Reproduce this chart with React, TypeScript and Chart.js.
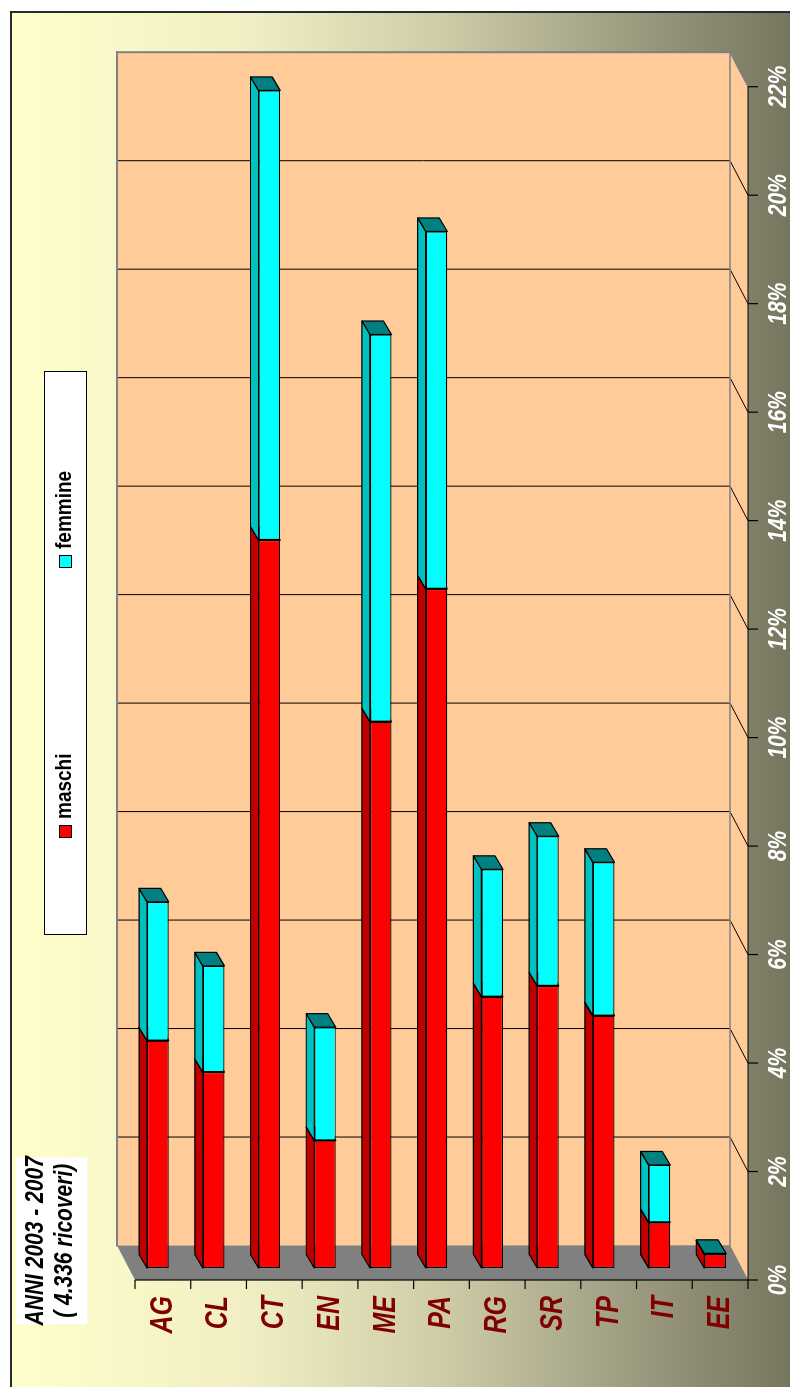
import React, { useEffect, useRef } from 'react';
import { Chart, registerables } from 'chart.js';

Chart.register(...registerables);

// ---- data ----
const categories = ['AG', 'CL', 'CT', 'EN', 'ME', 'PA', 'RG', 'SR', 'TP', 'IT', 'EE'];
const maschi = [4.19, 3.61, 13.42, 2.35, 10.07, 12.52, 5.0, 5.2, 4.65, 0.84, 0.26];
const femmine = [2.56, 1.96, 8.29, 2.09, 7.14, 6.59, 2.35, 2.76, 2.83, 1.06, 0.01];
const seriesNames = ['maschi', 'femmine'];
const titleLines = ['ANNI 2003 - 2007', '( 4.336 ricoveri)'];
const valueMax = 22;
const valueStep = 2;

// ---- styling ----
const W = 1387;
const H = 790;
const FONT = '"Liberation Sans", Arial, Helvetica, sans-serif';
const FRONT = ['#FF0000', '#00FFFF'];
const SIDE = ['#C00000', '#00C0C0'];
const CAP = ['#800000', '#008080'];
const DEPTH = { x: 34.5, y: -18 };
const BAR_SHIFT = { x: 12, y: -5 };
const BAR_DEPTH = { x: 13.5, y: -8 };

type P = [number, number];

function poly(ctx: CanvasRenderingContext2D, pts: P[], fill?: string, stroke?: string, lw = 1) {
  ctx.beginPath();
  ctx.moveTo(pts[0][0], pts[0][1]);
  for (let i = 1; i < pts.length; i++) ctx.lineTo(pts[i][0], pts[i][1]);
  ctx.closePath();
  if (fill) {
    ctx.fillStyle = fill;
    ctx.fill();
  }
  if (stroke) {
    ctx.strokeStyle = stroke;
    ctx.lineWidth = lw;
    ctx.lineJoin = 'round';
    ctx.stroke();
  }
}

function line(ctx: CanvasRenderingContext2D, ax: number, ay: number, bx: number, by: number, color: string, lw = 1) {
  ctx.beginPath();
  ctx.moveTo(ax, ay);
  ctx.lineTo(bx, by);
  ctx.strokeStyle = color;
  ctx.lineWidth = lw;
  ctx.stroke();
}

function stretchText(
  ctx: CanvasRenderingContext2D,
  str: string,
  x: number,
  y: number,
  font: string,
  color: string,
  sy: number,
  align: CanvasTextAlign
) {
  ctx.save();
  ctx.translate(x, y);
  ctx.scale(1, sy);
  ctx.font = font;
  ctx.fillStyle = color;
  ctx.textAlign = align;
  ctx.textBaseline = 'middle';
  ctx.fillText(str, 0, 0);
  ctx.restore();
}

const scene3d = {
  id: 'scene3d',
  beforeDraw(chart: any) {
    const ctx: CanvasRenderingContext2D = chart.ctx;
    ctx.save();
    ctx.fillStyle = '#ffffff';
    ctx.fillRect(0, 0, W, H);
    const g = ctx.createLinearGradient(0, 10, 0, H);
    g.addColorStop(0, '#FFFFCC');
    g.addColorStop(0.3, '#F1EFC3');
    g.addColorStop(0.55, '#CFCDA8');
    g.addColorStop(0.78, '#A09F84');
    g.addColorStop(1, '#76765F');
    ctx.fillStyle = g;
    ctx.fillRect(0, 10, 1375, H - 10);
    ctx.beginPath();
    ctx.moveTo(0, 11);
    ctx.lineTo(1375, 11);
    ctx.lineTo(1375, H);
    ctx.strokeStyle = '#2a2a2a';
    ctx.lineWidth = 2;
    ctx.stroke();

    const xs = chart.scales.x;
    const a = chart.chartArea;
    const x0 = xs.getPixelForValue(0);
    const x1 = xs.getPixelForValue(valueMax);
    const t = a.top;
    const b = a.bottom;
    const dx = DEPTH.x;
    const dy = DEPTH.y;

    // back wall
    ctx.fillStyle = '#FFCC99';
    ctx.fillRect(x0 + dx, t + dy, x1 - x0, b - t);
    // lower side wall
    poly(ctx, [[x0, b], [x0 + dx, b + dy], [x1 + dx, b + dy], [x1, b]], '#FFCC99');

    // gridlines on walls
    for (const tk of xs.ticks) {
      const v = tk.value;
      if (v <= 0 || v >= valueMax) continue;
      const X = xs.getPixelForValue(v);
      line(ctx, X + dx, t + dy, X + dx, b + dy, '#000', 1);
      line(ctx, X + dx, b + dy, X, b, '#000', 1);
    }

    // wall borders
    ctx.lineCap = 'square';
    line(ctx, x0 + dx, t + dy, x1 + dx, t + dy, '#808080', 2);
    line(ctx, x1 + dx, t + dy, x1 + dx, b + dy, '#808080', 2);
    line(ctx, x0 + dx, b + dy, x1 + dx, b + dy, '#808080', 1.5);
    line(ctx, x1 + dx, b + dy, x1, b, '#808080', 1.5);
    ctx.lineCap = 'butt';

    // floor (gray)
    poly(ctx, [[x0, t], [x0 + dx, t + dy], [x0 + dx, b + dy], [x0, b]], '#808080');

    // axes
    line(ctx, x0, b, x1, b, '#000', 1.2);
    for (const tk of xs.ticks) {
      const X = xs.getPixelForValue(tk.value);
      line(ctx, X, b, X, b + 10, '#000', 1.2);
    }
    line(ctx, x0, t, x0, b, '#000', 1.2);
    const n = categories.length;
    const step = (b - t) / n;
    for (let k = 0; k <= n; k++) {
      const Y = t + k * step;
      line(ctx, x0 - 9, Y, x0, Y, '#000', 1.2);
    }
    ctx.restore();
  },
  beforeDatasetsDraw(chart: any) {
    const ctx: CanvasRenderingContext2D = chart.ctx;
    ctx.save();
    ctx.translate(BAR_SHIFT.x, BAR_SHIFT.y);
    const bx = BAR_DEPTH.x;
    const by = BAR_DEPTH.y;
    chart.data.datasets.forEach((_ds: any, di: number) => {
      const meta = chart.getDatasetMeta(di);
      meta.data.forEach((el: any) => {
        const p = el.getProps(['x', 'y', 'base', 'height'], true);
        const xa = Math.min(p.x, p.base);
        const xb = Math.max(p.x, p.base);
        const yT = p.y - p.height / 2;
        const yB = p.y + p.height / 2;
        poly(ctx, [[xa, yT], [xb, yT], [xb + bx, yT + by], [xa + bx, yT + by]], SIDE[di], '#000', 1.2);
        poly(ctx, [[xb, yT], [xb + bx, yT + by], [xb + bx, yB + by], [xb, yB]], CAP[di], '#000', 1.2);
      });
    });
  },
  afterDatasetsDraw(chart: any) {
    chart.ctx.restore();
  },
  afterDraw(chart: any) {
    const ctx: CanvasRenderingContext2D = chart.ctx;
    const xs = chart.scales.x;
    const ys = chart.scales.y;
    ctx.save();
    // value labels
    for (const tk of xs.ticks) {
      const X = xs.getPixelForValue(tk.value);
      stretchText(ctx, `${tk.value}%`, X, 779, `italic bold 21px ${FONT}`, '#ffffff', 1.2, 'center');
    }
    // category labels
    categories.forEach((c, i) => {
      const Y = ys.getPixelForValue(i);
      stretchText(ctx, c, 91, Y, `italic bold 25px ${FONT}`, '#800000', 1.28, 'right');
    });
    // title box
    ctx.fillStyle = '#ffffff';
    ctx.fillRect(62.7, 16, 167, 71.3);
    stretchText(ctx, titleLines[0], 146.2, 36.5, `italic bold 21px ${FONT}`, '#000', 1.2, 'center');
    stretchText(ctx, titleLines[1], 146.2, 65, `italic bold 21px ${FONT}`, '#000', 1.2, 'center');
    // legend
    ctx.fillStyle = '#ffffff';
    ctx.fillRect(452, 44, 563, 42);
    ctx.strokeStyle = '#000';
    ctx.lineWidth = 1;
    ctx.strokeRect(452.5, 44.5, 563, 42);
    const itemX = [549, 819];
    chart.data.datasets.forEach((ds: any, di: number) => {
      const sx = itemX[di];
      ctx.fillStyle = ds.backgroundColor;
      ctx.fillRect(sx, 59.5, 12, 12);
      ctx.strokeStyle = '#000';
      ctx.lineWidth = 1;
      ctx.strokeRect(sx + 0.5, 59.5, 12, 12);
      stretchText(ctx, ds.label, sx + 19, 65.5, `bold 19px ${FONT}`, '#000', 1.12, 'left');
    });
    ctx.restore();
  },
};

export default function App() {
  const ref = useRef<HTMLCanvasElement>(null);
  useEffect(() => {
    const canvas = ref.current;
    if (!canvas) return;
    const chart = new Chart(canvas, {
      type: 'bar',
      data: {
        labels: categories,
        datasets: [
          {
            label: seriesNames[0],
            data: maschi,
            backgroundColor: FRONT[0],
            borderColor: '#000',
            borderWidth: 1.2,
            borderSkipped: false,
            clip: false as any,
          },
          {
            label: seriesNames[1],
            data: femmine,
            backgroundColor: FRONT[1],
            borderColor: '#000',
            borderWidth: 1.2,
            borderSkipped: false,
            clip: false as any,
          },
        ],
      },
      options: {
        indexAxis: 'y',
        responsive: false,
        animation: false,
        devicePixelRatio: 1,
        layout: { padding: { left: 107, right: 86.7, top: 135, bottom: 42 } },
        datasets: { bar: { categoryPercentage: 1, barPercentage: 0.3876 } },
        plugins: {
          legend: { display: false },
          tooltip: { enabled: false },
          title: { display: false },
        },
        scales: {
          x: {
            type: 'linear',
            stacked: true,
            min: 0,
            max: valueMax,
            ticks: { stepSize: valueStep },
            display: false,
          },
          y: { type: 'category', stacked: true, offset: true, display: false },
        },
      } as any,
      plugins: [scene3d as any],
    });
    return () => chart.destroy();
  }, []);

  return (
    <div style={{ position: 'absolute', left: 0, top: 0, width: 790, height: 1387, overflow: 'hidden' }}>
      <div
        style={{
          position: 'absolute',
          left: 0,
          top: 1387,
          width: W,
          height: H,
          transform: 'rotate(-90deg)',
          transformOrigin: '0 0',
        }}
      >
        <canvas ref={ref} width={W} height={H} style={{ display: 'block' }} />
      </div>
    </div>
  );
}
